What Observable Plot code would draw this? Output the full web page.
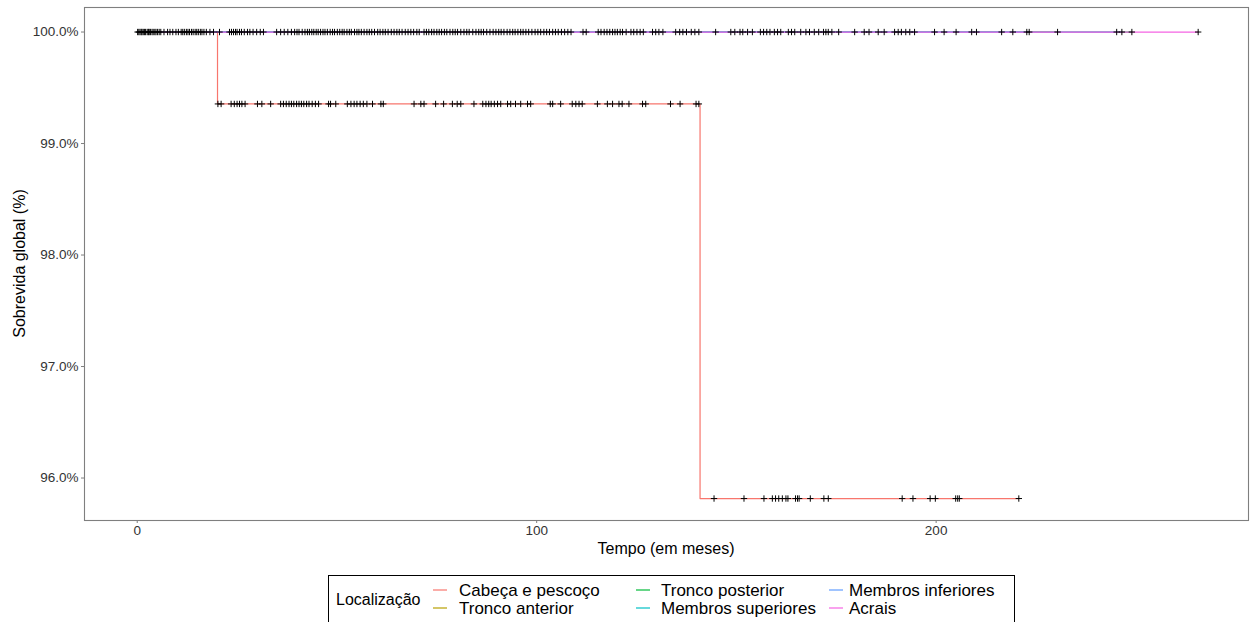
<!DOCTYPE html>
<html><head><meta charset="utf-8">
<script src="https://cdn.jsdelivr.net/npm/d3@7"></script>
<script src="https://cdn.jsdelivr.net/npm/@observablehq/plot@0.6"></script>
<style>
html,body{margin:0;padding:0;background:#fff;overflow:hidden;}
#wrap{position:relative;width:1252px;height:622px;font-family:"Liberation Sans",Arial,Helvetica,sans-serif;}
#legend{position:absolute;left:328px;top:575px;width:687px;height:56px;}
</style></head>
<body><div id="wrap"><div id="chart"></div><div id="legend"></div></div>
<script>
// ---- data ----
const groups = ["Cabeça e pescoço","Tronco anterior","Tronco posterior","Membros superiores","Membros inferiores","Acrais"];
const colors = ["#F8766D","#B79F00","#00BA38","#00BFC4","#619CFF","#F564E3"];
// Kaplan-Meier curve of "Cabeça e pescoço" (months, survival %)
const cabecaTimes = [0, 20.1, 140.9, 220.7];
const cabecaSurv  = [100, 99.355, 95.816, 95.816];
// other groups: no events, survival stays 100% until last follow-up
const otherGroups = ["Tronco anterior","Tronco posterior","Membros superiores","Membros inferiores","Acrais"];
const otherEnd    = [230.4, 249.0, 223.3, 246.5, 265.6];
// censoring times (months) at each survival level
const levelTop = 100, levelMid = 99.355, levelLow = 95.816;
const censorTop = [0.1,0.4,0.7,1.0,1.2,1.5,1.8,2.1,2.5,2.8,3.0,3.3,3.7,4.0,4.4,4.7,5.1,5.5,5.9,6.7,7.6,
 8.2,8.9,9.7,10.3,11.0,11.4,11.8,12.3,12.7,13.1,13.6,14.0,14.5,14.9,15.3,15.8,16.2,16.7,17.3,18.2,19.1,20.6,
 23.1,23.6,24.1,24.6,25.0,25.6,26.1,26.8,27.6,28.2,29.0,29.9,30.8,31.6,34.9,35.9,36.8,
 37.7,38.6,39.4,40.0,40.5,41.3,42.0,42.6,43.1,43.7,44.2,44.8,45.3,45.9,46.5,47.0,47.6,48.3,48.9,49.4,50.1,50.7,
 51.3,51.8,52.5,53.1,53.6,54.4,55.0,55.5,56.1,56.8,57.5,58.1,58.7,59.4,60.2,60.8,61.5,62.1,62.8,63.6,64.3,65.0,
 65.6,66.3,67.1,67.8,68.5,69.2,70.0,70.6,71.8,72.4,73.0,73.7,74.3,75.0,75.6,76.2,76.9,77.5,78.3,79.0,79.6,80.2,
 81.0,81.8,82.5,83.1,84.0,84.8,85.5,86.1,86.7,87.5,88.3,89.1,89.8,90.5,91.1,91.8,92.6,93.3,94.0,94.6,95.3,96.0,
 96.6,97.3,98.0,98.8,99.6,100.3,101.0,101.8,102.5,103.2,104.0,104.7,105.4,106.2,107.0,107.8,108.6,111.6,112.4,
 115.4,116.1,116.9,117.6,118.3,119.0,119.6,120.2,120.9,121.5,122.4,123.6,124.3,125.1,125.9,126.7,
 129.0,129.8,130.6,131.6,134.8,135.8,136.6,137.5,138.7,139.6,140.6,144.8,
 148.6,149.6,150.9,151.6,152.8,154.0,156.0,156.8,157.6,158.4,159.5,160.3,161.1,163.0,163.8,164.6,166.1,167.4,
 168.3,169.5,170.6,171.8,172.4,173.0,173.9,175.6,179.6,182.0,183.2,185.5,187.0,189.6,190.5,191.3,192.4,193.4,
 194.6,199.6,202.0,205.0,208.9,210.1,216.4,219.2,222.7,223.3,230.4,245.2,246.5,249.0,265.6];
const censorMid = [20.2,21.0,23.5,24.3,25.0,25.6,26.2,27.0,30.1,31.2,33.4,35.9,36.6,37.3,38.0,38.6,39.2,39.9,40.5,
 41.1,41.7,42.4,43.0,43.8,44.6,45.4,47.9,48.4,49.7,52.6,53.5,54.3,55.0,55.8,56.6,57.5,58.9,61.0,61.6,69.3,71.0,
 71.8,74.7,76.7,78.9,80.1,81.0,84.3,86.5,87.3,88.0,88.6,89.4,90.2,91.0,92.7,93.5,94.7,96.0,97.7,98.5,103.4,104.0,
 106.0,108.9,109.8,110.6,111.4,115.2,117.7,119.0,120.6,121.4,123.1,126.5,127.3,133.5,135.9,139.9,140.6];
const censorLow = [144.4,151.9,156.9,159.0,159.8,160.6,161.5,162.4,162.9,164.8,165.3,165.7,168.5,171.9,173.0,
 191.5,194.2,198.5,199.8,204.9,205.4,205.8,220.7];
const xTicks = [0, 100, 200];
const yTicks = [96, 97, 98, 99, 100];
const xTitle = "Tempo (em meses)";
const yTitle = "Sobrevida global (%)";
const legendTitle = "Localização";

// ---- build tables ----
const curves = [];
cabecaTimes.forEach((t, i) => curves.push({group: groups[0], t, s: cabecaSurv[i]}));
otherGroups.forEach((g, i) => { curves.push({group: g, t: 0, s: 100}); curves.push({group: g, t: otherEnd[i], s: 100}); });
const censors = [
  ...censorTop.map(t => ({t, s: levelTop})),
  ...censorMid.map(t => ({t, s: levelMid})),
  ...censorLow.map(t => ({t, s: levelLow}))
];

const FONT = '"Liberation Sans", Arial, Helvetica, sans-serif';
const plot = Plot.plot({
  width: 1252, height: 560,
  marginLeft: 84, marginRight: 4, marginTop: 7, marginBottom: 40,
  style: {fontFamily: FONT, fontSize: "13.5px", background: "#fff", color: "#333"},
  x: {domain: [-13.2, 278.2], ticks: xTicks, tickFormat: d => String(d), tickSize: 3, tickPadding: 2, label: null},
  y: {domain: [95.619, 100.22], ticks: yTicks, tickFormat: d => d.toFixed(1) + "%", tickSize: 3, tickPadding: 3, label: null},
  color: {domain: groups, range: colors},
  marks: [
    Plot.line(curves, {x: "t", y: "s", z: "group", stroke: "group", curve: "step-after", strokeWidth: 1.2}),
    Plot.dot(censors, {x: "t", y: "s", symbol: "plus", r: 2.2, stroke: "#000", strokeWidth: 1}),
    Plot.frame({stroke: "#7f7f7f", strokeWidth: 1.1})
  ]
});
document.getElementById("chart").appendChild(plot);

const svg = d3.select(plot);
svg.selectAll("g[aria-label='x-axis tick'], g[aria-label='y-axis tick']").attr("stroke", "#7f7f7f");

// axis titles
const sx = plot.scale("x"), sy = plot.scale("y");
svg.append("text").attr("x", (sx.range[0] + sx.range[1]) / 2).attr("y", 554)
  .attr("text-anchor", "middle").attr("font-size", 16).attr("fill", "#000").text(xTitle);
svg.append("text").attr("transform", `translate(25,${(sy.range[0] + sy.range[1]) / 2}) rotate(-90)`)
  .attr("text-anchor", "middle").attr("font-size", 16).attr("fill", "#000").text(yTitle);

// legend (ggplot style: boxed, 2 rows filled by column)
const lg = d3.select("#legend").append("svg").attr("width", 687).attr("height", 56)
  .style("display", "block").style("font-family", FONT);
lg.append("rect").attr("x", 0.5).attr("y", 0.5).attr("width", 686).attr("height", 60)
  .attr("fill", "#fff").attr("stroke", "#000").attr("stroke-width", 1);
lg.append("text").attr("x", 8).attr("y", 24).attr("dy", "0.35em").attr("font-size", 16).attr("fill", "#000").text(legendTitle);
const colKey = [105, 308, 501], colLab = [131, 333, 521], rowY = [15, 33];
groups.forEach((g, i) => {
  const c = Math.floor(i / 2), r = i % 2;
  lg.append("line").attr("x1", colKey[c]).attr("x2", colKey[c] + 14).attr("y1", rowY[r]).attr("y2", rowY[r])
    .attr("stroke", colors[i]).attr("stroke-width", 1.2);
  lg.append("text").attr("x", colLab[c]).attr("y", rowY[r]).attr("dy", "0.35em")
    .attr("font-size", 17).attr("fill", "#000").text(g);
});
</script>
</body></html>
